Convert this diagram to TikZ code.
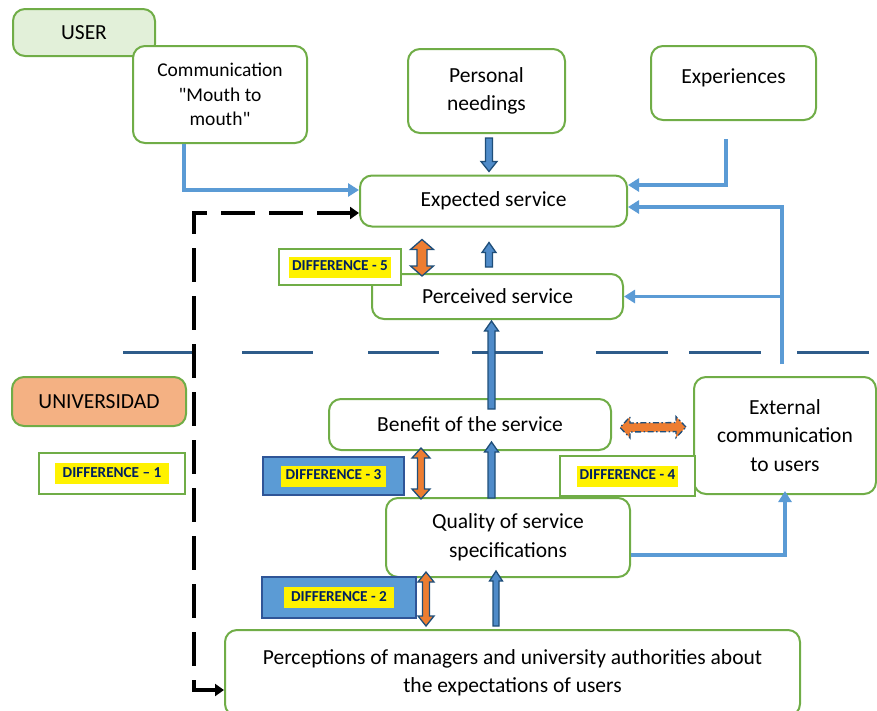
\documentclass[tikz,border=0pt]{standalone}
\usepackage{fontspec}
\setmainfont{Carlito}[Ligatures=TeXOff]
\usetikzlibrary{arrows.meta,calc}

\definecolor{boxgreen}{HTML}{70AD47}
\definecolor{usergreen}{HTML}{E2F0D9}
\definecolor{unibrown}{HTML}{F4B183}
\definecolor{linkblue}{HTML}{5B9BD5}
\definecolor{arrowfill}{HTML}{4F8BC9}
\definecolor{arrowedge}{HTML}{1F4E79}
\definecolor{gaporange}{HTML}{ED7D31}
\definecolor{tagnavy}{HTML}{002060}
\definecolor{tagframe}{HTML}{2F5597}
\definecolor{sepblue}{HTML}{2E5C8A}

\newcommand\blockarrow[5]{%
  \path #2 coordinate (ba-s);
  \path #3 coordinate (ba-t);
  \path ($(ba-t)!10pt!(ba-s)$) coordinate (ba-h);
  \filldraw[#1] ($(ba-s)!#4!90:(ba-t)$) -- ($(ba-h)!#4!90:(ba-t)$) -- ($(ba-h)!#5!90:(ba-t)$) -- (ba-t)
    -- ($(ba-h)!#5!-90:(ba-t)$) -- ($(ba-h)!#4!-90:(ba-t)$) -- ($(ba-s)!#4!-90:(ba-t)$) -- cycle;}
\newcommand\doublearrow[5]{%
  \path #2 coordinate (da-s);
  \path #3 coordinate (da-t);
  \path ($(da-t)!10pt!(da-s)$) coordinate (da-h1) ($(da-s)!10pt!(da-t)$) coordinate (da-h2);
  \filldraw[#1] (da-t) -- ($(da-h1)!#5!90:(da-t)$) -- ($(da-h1)!#4!90:(da-t)$) -- ($(da-h2)!#4!90:(da-t)$)
    -- ($(da-h2)!#5!90:(da-t)$) -- (da-s) -- ($(da-h2)!#5!-90:(da-t)$) -- ($(da-h2)!#4!-90:(da-t)$)
    -- ($(da-h1)!#4!-90:(da-t)$) -- ($(da-h1)!#5!-90:(da-t)$) -- cycle;}
\newcommand\difftag[1]{\colorbox{yellow}{\rule[-4pt]{0pt}{15pt}#1}}

\begin{document}
\begin{tikzpicture}[x=1pt,y=-1pt,
  box/.style={draw=boxgreen, line width=2pt, rounded corners=12pt, fill=white, align=center, inner sep=0pt,
    font=\fontsize{21.5}{28.5}\selectfont},
  tagbox/.style={draw=boxgreen, line width=2pt, fill=white, inner sep=0pt,
    font=\bfseries\fontsize{15.2}{18}\selectfont\color{tagnavy}},
  bluetag/.style={tagbox, draw=tagframe, line width=2.5pt, fill=linkblue},
  flow/.style={draw=linkblue, line width=3.5pt, -{Triangle[length=11pt,width=13pt]}},
  dashflow/.style={draw=black, line width=3.5pt, dash pattern=on 34pt off 14pt,
    {Triangle[length=9pt,width=12pt]}-{Triangle[length=9pt,width=12pt]}},
  sepline/.style={draw=sepblue, line width=3.5pt},
  bluearrow/.style={fill=arrowfill, draw=arrowedge, line width=1.3pt},
  orangearrow/.style={fill=gaporange, draw=arrowedge, line width=1.3pt},
  ]
\useasboundingbox (0,0) rectangle (877,710);

\foreach \a/\b in {123/194,242/313,368/439,472/543,596/668,689/761,797/869}
  \draw[sepline] (\a,352.5) -- (\b,352.5);

\node[box, fill=usergreen, minimum width=142pt, minimum height=47pt] (user) at (84,32.5) {USER};
\node[box, minimum width=174pt, minimum height=97pt, font=\fontsize{19.5}{24.5}\selectfont] (comm) at (220,94.5) {Communication\\"Mouth to\\mouth"};
\node[box, minimum width=157pt, minimum height=84pt] (needs) at (486.5,91) {Personal\\needings};
\node[box, minimum width=165pt, minimum height=74pt, text height=14pt, text depth=14pt] (exper) at (733.5,83) {Experiences};
\node[box, minimum width=267pt, minimum height=51pt] (exp) at (493.5,201) {Expected service};
\node[box, minimum width=251pt, minimum height=45pt] (perc) at (497.5,296.5) {Perceived service};
\node[tagbox, minimum width=122pt, minimum height=36pt] (diff5) at (340,267) {\difftag{DIFFERENCE - 5}};
\node[box, fill=unibrown, minimum width=174pt, minimum height=49pt] (univ) at (99,401.5) {UNIVERSIDAD};
\node[tagbox, minimum width=146pt, minimum height=41pt] (diff1) at (112,473.5) {\difftag{\hspace{5pt}DIFFERENCE – 1\hspace{5pt}}};
\node[box, minimum width=282pt, minimum height=51pt] (ben) at (470,424.5) {Benefit of the service};
\node[box, minimum width=182pt, minimum height=117pt] (ext) at (785,435.5) {External\\communication\\to users};
\node[bluetag, minimum width=141pt, minimum height=38pt] (diff3) at (333.5,476) {\difftag{\hspace{2pt}DIFFERENCE - 3\hspace{2pt}}};
\node[tagbox, minimum width=135pt, minimum height=40pt] (diff4) at (627.5,476) {\difftag{DIFFERENCE - 4}};
\node[box, minimum width=244pt, minimum height=79pt] (qual) at (508,537.5) {Quality of service\\specifications};
\node[bluetag, minimum width=154pt, minimum height=41pt] (diff2) at (339,597.5) {\difftag{\hspace{4pt}DIFFERENCE - 2\hspace{4pt}}};
\node[box, minimum width=575pt, minimum height=86pt] (percep) at (512.5,673) {Perceptions of managers and university authorities about\\the expectations of users};

\coordinate (colA) at (489,0);
\coordinate (colB) at (491.5,0);
\coordinate (colC) at (496,0);
\coordinate (colD) at (422,0);
\coordinate (colE) at (421,0);
\coordinate (colF) at (426,0);
\coordinate (corner) at (194,690);
\coordinate (trunk) at ([xshift=-3pt,yshift=12pt]ext.north);

\draw[flow] ([xshift=-36pt]comm.south) |- ([yshift=11pt]exp.west);
\draw[flow] ([xshift=-7.5pt,yshift=-18pt]exper.south) |- ([yshift=16pt]exp.east);
\draw[flow] (trunk) |- ([yshift=-6pt]exp.east);
\draw[flow] (trunk |- perc.east) -- (perc.east);
\draw[flow] ([yshift=-17.5pt]qual.east) -| ([yshift=4pt]ext.south);
\draw[dashflow] ([yshift=-12pt]exp.west) -| (corner) -- (percep.west |- corner);

\blockarrow{bluearrow}{(needs.south -| colA) ++(0,4)}{(exp.north -| colA) ++(0,-3)}{3.5pt}{8pt}
\blockarrow{bluearrow}{(perc.north -| colA) ++(0,-6)}{(exp.south -| colA) ++(0,15)}{3.5pt}{7pt}
\blockarrow{bluearrow}{(ben.north -| colB) ++(0,11)}{(perc.south -| colB) ++(0,1)}{3.5pt}{7pt}
\blockarrow{bluearrow}{(qual.north -| colB) ++(0,1)}{(ben.south -| colB) ++(0,-9)}{3.5pt}{7pt}
\blockarrow{bluearrow}{(percep.north -| colC) ++(0,-3)}{(qual.south -| colC) ++(0,-7)}{3pt}{6.5pt}
\doublearrow{orangearrow}{(exp.south -| colD) ++(0,12)}{(perc.north -| colD) ++(0,3)}{5pt}{11.5pt}
\doublearrow{orangearrow}{(ben.south -| colE) ++(0,-3)}{(qual.north -| colE) ++(0,2)}{3.5pt}{9pt}
\doublearrow{orangearrow}{(qual.south -| colF) ++(0,-6)}{(percep.north -| colF) ++(0,-3)}{3.5pt}{8pt}
\doublearrow{orangearrow, dash pattern=on 6pt off 2.5pt on 1.5pt off 2.5pt}{(ben.east) ++(8,3)}{(ext.west) ++(-7,-8.5)}{4.5pt}{10.5pt}
\end{tikzpicture}
\end{document}
